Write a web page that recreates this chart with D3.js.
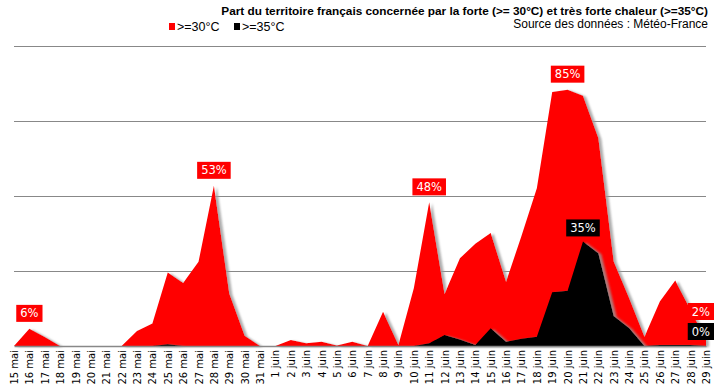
<!DOCTYPE html>
<html lang="fr">
  <head>
    <meta charset="UTF-8" />
    <title>Chaleur</title>
    <script src="https://cdn.jsdelivr.net/npm/d3@7/dist/d3.min.js"></script>
    <style>
      html,
      body {
        margin: 0;
        padding: 0;
        background: #fff;
      }
    </style>
  </head>
  <body>
    <script>
      // dates du 15 mai au 29 juin
      const days = [
        '15 mai', '16 mai', '17 mai', '18 mai', '19 mai', '20 mai', '21 mai', '22 mai',
        '23 mai', '24 mai', '25 mai', '26 mai', '27 mai', '28 mai', '29 mai', '30 mai',
        '31 mai', '1 juin', '2 juin', '3 juin', '4 juin', '5 juin', '6 juin', '7 juin',
        '8 juin', '9 juin', '10 juin', '11 juin', '12 juin', '13 juin', '14 juin', '15 juin',
        '16 juin', '17 juin', '18 juin', '19 juin', '20 juin', '21 juin', '22 juin', '23 juin',
        '24 juin', '25 juin', '26 juin', '27 juin', '28 juin', '29 juin',
      ];

      // part du territoire >= 30°C (%)
      const hot30 = [
        0, 5.7, 3, 0, 0, 0, 0, 0,
        5, 7.5, 24.5, 21, 28, 53.3, 17.5, 3.4,
        0, 0, 2, 0.9, 1.4, 0.2, 1.4, 0,
        11.4, 0.3, 19.2, 47.8, 17.3, 29.2, 34, 37.6,
        21.4, 36.6, 52.5, 84.5, 85.3, 83.3, 69.2, 28.1,
        16, 3.1, 14.8, 21.8, 12, 2,
      ];

      // part du territoire >= 35°C (%)
      const hot35 = [
        0, 0, 0, 0, 0, 0, 0, 0,
        0, 0, 0.6, 0, 0, 0, 0, 0,
        0, 0, 0, 0, 0, 0, 0, 0,
        0, 0, 0, 0.9, 3.7, 2.2, 0.3, 5.9,
        1.4, 2.4, 3.1, 17.9, 18.4, 34.8, 30.9, 10,
        6, 0, 0.3, 0.3, 0.3, 0,
      ];

      const gridTicks = [25, 50, 75, 100];

      // jours annotés
      const peaks30 = ['16 mai', '28 mai', '11 juin', '20 juin'];
      const peaks35 = ['21 juin'];

      const width = 715,
        height = 387;

      const red = '#ff0000';

      const svg = d3
        .select('body')
        .append('svg')
        .attr('width', width)
        .attr('height', height)
        .style('display', 'block');

      const defs = svg.append('defs');
      defs
        .append('filter')
        .attr('id', 'shadow')
        .attr('x', '-5%')
        .attr('y', '-5%')
        .attr('width', '115%')
        .attr('height', '115%')
        .append('feDropShadow')
        .attr('dx', 3)
        .attr('dy', 1)
        .attr('stdDeviation', 0.8)
        .attr('flood-color', '#999')
        .attr('flood-opacity', 0.8);

      const x = d3.scalePoint().domain(days).range([14, 706]);
      const y = d3.scaleLinear().domain([0, 100]).range([346, 45.5]);

      // grille
      svg
        .append('g')
        .selectAll('line')
        .data(gridTicks)
        .join('line')
        .attr('x1', 14)
        .attr('x2', 706)
        .attr('y1', d => Math.round(y(d)) + 0.5)
        .attr('y2', d => Math.round(y(d)) + 0.5)
        .style('stroke', '#888')
        .style('stroke-width', 1);

      const area = series =>
        d3
          .area()
          .x((d, i) => x(days[i]))
          .y0(y(0))
          .y1(d => y(d))(series);

      svg
        .append('path')
        .attr('d', area(hot30))
        .style('fill', red)
        .attr('filter', 'url(#shadow)');

      svg
        .append('path')
        .attr('d', area(hot35))
        .style('fill', '#000')
        .attr('filter', 'url(#shadow)');

      // axe
      const axis = svg
        .append('g')
        .attr('transform', `translate(0, ${y(0)})`)
        .call(d3.axisBottom(x).tickSize(0).tickSizeOuter(0));

      axis.select('.domain').style('stroke', '#888').style('stroke-width', 1.5);

      axis
        .selectAll('text')
        .attr('transform', 'rotate(-90)')
        .attr('x', -4)
        .attr('y', 0)
        .attr('dy', '0.35em')
        .style('text-anchor', 'end')
        .style('font-family', 'DejaVu Sans, Verdana, sans-serif')
        .style('font-size', '10px')
        .style('fill', '#000');

      const fmt = v => d3.format('.0f')(v) + '%';

      function label(cx, bottom, text, fill, anchor) {
        const g = svg.append('g');
        const t = g
          .append('text')
          .text(text)
          .style('font-family', 'DejaVu Sans, Verdana, sans-serif')
          .style('font-size', '11.5px')
          .style('fill', '#fff');
        const w = t.node().getComputedTextLength() + 8;
        const h = 17;
        const left = anchor === 'end' ? cx - w : cx - w / 2;
        g.insert('rect', 'text')
          .attr('x', left)
          .attr('y', bottom - h)
          .attr('width', w)
          .attr('height', h)
          .style('fill', fill);
        t.attr('x', left + 4).attr('y', bottom - 4.5);
        return bottom - h;
      }

      peaks30.forEach(d => {
        const v = hot30[days.indexOf(d)];
        label(x(d), y(v) - 7, fmt(v), red);
      });

      peaks35.forEach(d => {
        const v = hot35[days.indexOf(d)];
        label(x(d), y(v) - 5, fmt(v), '#000');
      });

      // dernières valeurs, calées à droite
      const last = days.length - 1;
      const top35 = label(width - 1, y(hot35[last]) - 6, fmt(hot35[last]), '#000', 'end');
      label(width - 1, top35 - 3, fmt(hot30[last]), red, 'end');

      // titre, légende, source
      svg
        .append('text')
        .attr('x', 708)
        .attr('y', 15)
        .attr('text-anchor', 'end')
        .style('font-family', 'Liberation Sans, Arial, sans-serif')
        .style('font-weight', 'bold')
        .style('font-size', '11.8px')
        .text('Part du territoire français concernée par la forte (>= 30°C) et très forte chaleur (>=35°C)');

      svg
        .append('text')
        .attr('x', 708)
        .attr('y', 28)
        .attr('text-anchor', 'end')
        .style('font-family', 'Liberation Sans, Arial, sans-serif')
        .style('font-size', '12px')
        .text('Source des données : Météo-France');

      const legend = svg
        .append('g')
        .attr('transform', 'translate(169, 31)')
        .selectAll('g')
        .data([
          { name: '>=30°C', color: red },
          { name: '>=35°C', color: '#000' },
        ])
        .join('g')
        .attr('transform', (d, i) => `translate(${i * 65}, 0)`);

      legend
        .append('rect')
        .attr('x', 0)
        .attr('y', -8)
        .attr('width', 6)
        .attr('height', 7)
        .style('fill', d => d.color);

      legend
        .append('text')
        .attr('x', 8)
        .attr('y', 0)
        .style('font-family', 'Liberation Sans, Arial, sans-serif')
        .style('font-size', '12.5px')
        .text(d => d.name);
    </script>
  </body>
</html>
